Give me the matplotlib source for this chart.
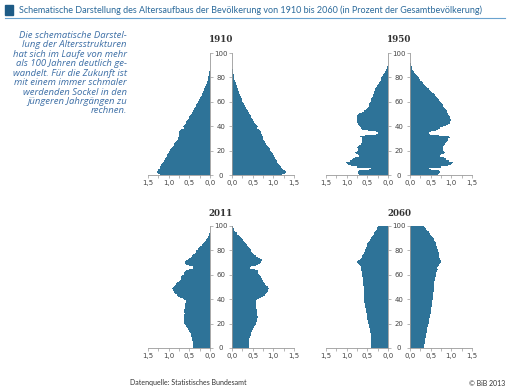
import matplotlib
matplotlib.use('Agg')
import matplotlib.pyplot as plt
from matplotlib.ticker import MultipleLocator, FuncFormatter

# age 0..100, share of total population in percent (left = male, right = female)
ages = list(range(101))

male_1910 = [1.22, 1.27, 1.28, 1.27, 1.25, 1.22, 1.21, 1.19, 1.18, 1.16,
             1.13, 1.12, 1.10, 1.08, 1.07, 1.05, 1.03, 1.02, 1.00, 0.98,
             0.96, 0.94, 0.92, 0.90, 0.88, 0.86, 0.84, 0.82, 0.80, 0.78,
             0.77, 0.76, 0.76, 0.75, 0.75, 0.74, 0.73, 0.70, 0.64, 0.66,
             0.63, 0.61, 0.59, 0.57, 0.56, 0.54, 0.52, 0.50, 0.48, 0.46,
             0.44, 0.43, 0.41, 0.39, 0.38, 0.36, 0.34, 0.33, 0.31, 0.29,
             0.28, 0.26, 0.25, 0.23, 0.22, 0.20, 0.19, 0.17, 0.16, 0.15,
             0.14, 0.12, 0.11, 0.10, 0.09, 0.08, 0.07, 0.06, 0.05, 0.05,
             0.04, 0.03, 0.03, 0.02, 0.02, 0.01, 0.01, 0.01, 0.0, 0.0,
             0.0, 0.0, 0.0, 0.0, 0.0, 0.0, 0.0, 0.0, 0.0, 0.0, 0.0]
female_1910 = [1.22, 1.28, 1.30, 1.28, 1.24, 1.20, 1.18, 1.16, 1.14, 1.12,
               1.10, 1.08, 1.07, 1.05, 1.04, 1.02, 1.00, 0.99, 0.97, 0.95,
               0.93, 0.91, 0.89, 0.87, 0.85, 0.83, 0.81, 0.79, 0.77, 0.76,
               0.75, 0.74, 0.73, 0.72, 0.71, 0.70, 0.68, 0.66, 0.60, 0.62,
               0.60, 0.58, 0.56, 0.54, 0.52, 0.51, 0.49, 0.47, 0.45, 0.43,
               0.41, 0.40, 0.38, 0.36, 0.34, 0.33, 0.31, 0.30, 0.28, 0.27,
               0.25, 0.24, 0.23, 0.22, 0.21, 0.19, 0.18, 0.17, 0.16, 0.15,
               0.14, 0.13, 0.12, 0.11, 0.10, 0.09, 0.08, 0.07, 0.06, 0.06,
               0.05, 0.04, 0.04, 0.03, 0.03, 0.02, 0.02, 0.01, 0.01, 0.01,
               0.01, 0.0, 0.0, 0.0, 0.0, 0.0, 0.0, 0.0, 0.0, 0.0, 0.0]

male_1950 = [0.70, 0.72, 0.72, 0.70, 0.45, 0.40, 0.75, 0.90, 0.97, 1.00,
             1.02, 0.93, 0.88, 0.85, 0.80, 0.70, 0.72, 0.78, 0.80, 0.76,
             0.72, 0.72, 0.74, 0.73, 0.70, 0.66, 0.64, 0.62, 0.63, 0.62,
             0.64, 0.68, 0.55, 0.28, 0.24, 0.30, 0.48, 0.62, 0.65, 0.68,
             0.70, 0.72, 0.73, 0.74, 0.75, 0.75, 0.75, 0.74, 0.74, 0.72,
             0.70, 0.64, 0.58, 0.54, 0.51, 0.49, 0.47, 0.46, 0.45, 0.43,
             0.42, 0.41, 0.40, 0.39, 0.37, 0.36, 0.35, 0.34, 0.33, 0.32,
             0.31, 0.29, 0.27, 0.26, 0.24, 0.22, 0.20, 0.18, 0.17, 0.16,
             0.15, 0.13, 0.11, 0.09, 0.07, 0.05, 0.04, 0.03, 0.02, 0.01,
             0.01, 0.0, 0.0, 0.0, 0.0, 0.0, 0.0, 0.0, 0.0, 0.0, 0.0]
female_1950 = [0.67, 0.71, 0.72, 0.70, 0.50, 0.45, 0.75, 0.92, 0.98, 1.02,
               1.03, 0.95, 0.88, 0.86, 0.82, 0.72, 0.76, 0.82, 0.84, 0.82,
               0.80, 0.79, 0.80, 0.80, 0.82, 0.85, 0.88, 0.90, 0.91, 0.93,
               0.96, 0.95, 0.70, 0.48, 0.45, 0.52, 0.63, 0.68, 0.72, 0.80,
               0.88, 0.93, 0.96, 0.97, 0.98, 0.98, 0.97, 0.96, 0.95, 0.93,
               0.92, 0.90, 0.89, 0.87, 0.85, 0.83, 0.81, 0.79, 0.77, 0.74,
               0.72, 0.70, 0.67, 0.65, 0.62, 0.60, 0.57, 0.54, 0.51, 0.48,
               0.45, 0.42, 0.39, 0.36, 0.33, 0.31, 0.28, 0.25, 0.23, 0.21,
               0.19, 0.16, 0.14, 0.12, 0.10, 0.08, 0.06, 0.05, 0.04, 0.03,
               0.02, 0.02, 0.01, 0.01, 0.0, 0.0, 0.0, 0.0, 0.0, 0.0, 0.0]

male_2011 = [0.42, 0.42, 0.42, 0.42, 0.42, 0.42, 0.43, 0.43, 0.44, 0.45,
             0.46, 0.47, 0.48, 0.50, 0.51, 0.53, 0.55, 0.57, 0.58, 0.60,
             0.62, 0.62, 0.63, 0.62, 0.63, 0.64, 0.63, 0.62, 0.61, 0.62,
             0.63, 0.62, 0.61, 0.60, 0.60, 0.61, 0.60, 0.58, 0.58, 0.62,
             0.66, 0.72, 0.77, 0.81, 0.84, 0.86, 0.88, 0.90, 0.91, 0.90,
             0.88, 0.85, 0.82, 0.79, 0.76, 0.73, 0.71, 0.70, 0.69, 0.67,
             0.64, 0.62, 0.60, 0.58, 0.52, 0.40, 0.42, 0.52, 0.57, 0.60,
             0.61, 0.58, 0.54, 0.50, 0.46, 0.43, 0.40, 0.37, 0.35, 0.33,
             0.30, 0.28, 0.26, 0.23, 0.20, 0.17, 0.15, 0.12, 0.10, 0.08,
             0.06, 0.04, 0.03, 0.02, 0.01, 0.01, 0.0, 0.0, 0.0, 0.0, 0.0]
female_2011 = [0.40, 0.40, 0.40, 0.40, 0.41, 0.41, 0.42, 0.42, 0.43, 0.44,
               0.45, 0.46, 0.47, 0.48, 0.49, 0.51, 0.53, 0.54, 0.56, 0.58,
               0.59, 0.60, 0.61, 0.60, 0.61, 0.62, 0.61, 0.60, 0.60, 0.61,
               0.61, 0.60, 0.59, 0.58, 0.58, 0.59, 0.58, 0.57, 0.58, 0.61,
               0.66, 0.71, 0.75, 0.79, 0.82, 0.84, 0.86, 0.88, 0.89, 0.88,
               0.86, 0.83, 0.80, 0.78, 0.76, 0.74, 0.72, 0.71, 0.70, 0.68,
               0.66, 0.64, 0.63, 0.62, 0.56, 0.44, 0.47, 0.58, 0.64, 0.68,
               0.71, 0.73, 0.72, 0.68, 0.62, 0.57, 0.54, 0.51, 0.49, 0.47,
               0.45, 0.43, 0.41, 0.39, 0.37, 0.35, 0.32, 0.30, 0.27, 0.25,
               0.22, 0.19, 0.16, 0.13, 0.11, 0.08, 0.06, 0.04, 0.03, 0.02, 0.01]

male_2060 = [0.40, 0.40, 0.40, 0.40, 0.40, 0.40, 0.41, 0.41, 0.41, 0.42,
             0.42, 0.42, 0.43, 0.43, 0.44, 0.44, 0.45, 0.46, 0.46, 0.47,
             0.48, 0.49, 0.49, 0.50, 0.50, 0.51, 0.51, 0.52, 0.52, 0.53,
             0.53, 0.54, 0.54, 0.55, 0.55, 0.56, 0.56, 0.57, 0.57, 0.57,
             0.58, 0.58, 0.58, 0.59, 0.59, 0.59, 0.59, 0.59, 0.59, 0.59,
             0.59, 0.60, 0.60, 0.60, 0.60, 0.60, 0.61, 0.61, 0.62, 0.62,
             0.63, 0.64, 0.64, 0.65, 0.66, 0.65, 0.66, 0.68, 0.70, 0.72,
             0.74, 0.72, 0.68, 0.65, 0.63, 0.62, 0.60, 0.59, 0.57, 0.56,
             0.55, 0.54, 0.53, 0.52, 0.51, 0.50, 0.48, 0.46, 0.44, 0.42,
             0.40, 0.38, 0.36, 0.34, 0.33, 0.31, 0.29, 0.27, 0.26, 0.24, 0.23]
female_2060 = [0.35, 0.35, 0.35, 0.36, 0.36, 0.36, 0.37, 0.37, 0.38, 0.38,
               0.39, 0.39, 0.40, 0.40, 0.41, 0.41, 0.42, 0.43, 0.43, 0.44,
               0.45, 0.45, 0.46, 0.47, 0.47, 0.48, 0.49, 0.49, 0.50, 0.50,
               0.51, 0.51, 0.52, 0.52, 0.53, 0.53, 0.53, 0.54, 0.54, 0.55,
               0.55, 0.55, 0.56, 0.56, 0.56, 0.56, 0.57, 0.57, 0.57, 0.57,
               0.57, 0.58, 0.58, 0.59, 0.59, 0.60, 0.60, 0.61, 0.62, 0.62,
               0.63, 0.64, 0.65, 0.66, 0.67, 0.66, 0.67, 0.69, 0.71, 0.73,
               0.75, 0.74, 0.73, 0.72, 0.71, 0.71, 0.70, 0.69, 0.69, 0.68,
               0.67, 0.66, 0.66, 0.65, 0.64, 0.63, 0.62, 0.60, 0.58, 0.57,
               0.55, 0.53, 0.51, 0.49, 0.47, 0.45, 0.42, 0.39, 0.36, 0.33, 0.30]

years = ['1910', '1950', '2011', '2060']
males = [male_1910, male_1950, male_2011, male_2060]
females = [female_1910, female_1950, female_2011, female_2060]

title = ('Schematische Darstellung des Altersaufbaus der Bevölkerung '
         'von 1910 bis 2060 (in Prozent der Gesamtbevölkerung)')
note = ('Die schematische Darstel-\nlung der Altersstrukturen\n'
        'hat sich im Laufe von mehr\nals 100 Jahren deutlich ge-\n'
        'wandelt. Für die Zukunft ist\nmit einem immer schmaler\n'
        'werdenden Sockel in den\njüngeren Jahrgängen zu\nrechnen.')

BAR = '#2e7398'
AXC = '#9a9a9a'
TXT = '#444444'

W, H = 510, 391
fig = plt.figure(figsize=(W / 100, H / 100), dpi=100)

# pixel boxes of the panels: (left x of male panel, top y)
boxes = [(148, 53), (326, 53), (148, 226), (326, 226)]
pw, ph, gap = 62, 122, 22

comma = FuncFormatter(lambda v, p: f'{v:.1f}'.replace('.', ','))

for (x0, y0), year, m, f in zip(boxes, years, males, females):
    bottom = 1 - (y0 + ph) / H
    ax_l = fig.add_axes([x0 / W, bottom, pw / W, ph / H])
    ax_r = fig.add_axes([(x0 + pw + gap) / W, bottom, pw / W, ph / H])

    ax_l.barh(ages, m, height=1.0, align='edge', color=BAR, linewidth=0)
    ax_r.barh(ages, f, height=1.0, align='edge', color=BAR, linewidth=0)

    ax_l.set_xlim(1.5, 0)
    ax_r.set_xlim(0, 1.5)
    for ax in (ax_l, ax_r):
        ax.set_ylim(0, 100)
        ax.xaxis.set_major_locator(MultipleLocator(0.5))
        ax.xaxis.set_minor_locator(MultipleLocator(0.25))
        ax.xaxis.set_major_formatter(comma)
        ax.yaxis.set_major_locator(MultipleLocator(20))
        ax.tick_params(axis='x', which='both', length=2, width=0.5,
                       color=AXC, labelsize=5, labelcolor=TXT, pad=1.5)
        ax.spines['top'].set_visible(False)
        ax.spines['bottom'].set_color(AXC)
        ax.spines['bottom'].set_linewidth(0.6)
        ax.set_facecolor('none')

    ax_l.spines['left'].set_visible(False)
    ax_l.spines['right'].set_color(AXC)
    ax_l.spines['right'].set_linewidth(0.6)
    ax_l.yaxis.tick_right()
    ax_l.tick_params(axis='y', length=2, width=0.5, color=AXC,
                     labelsize=5, labelcolor=TXT, pad=6.0)
    for lab in ax_l.get_yticklabels():
        lab.set_horizontalalignment('center')

    ax_r.spines['right'].set_visible(False)
    ax_r.spines['left'].set_color(AXC)
    ax_r.spines['left'].set_linewidth(0.6)
    ax_r.tick_params(axis='y', length=2, width=0.5, color=AXC, labelleft=False)

    fig.text((x0 + pw + gap / 2) / W, 1 - (y0 - 13) / H, year,
             ha='center', va='center', fontsize=6.3, fontweight='bold',
             family='DejaVu Serif', color='#333333')

# header
fig.patches.append(plt.Rectangle((5 / W, 1 - 15 / H), 8 / W, 10 / H,
                                 transform=fig.transFigure, color='#1d5b86'))
fig.text(19 / W, 1 - 10 / H, title, ha='left', va='center', fontsize=6.5,
         family='Lato', color='#2b6a9b')
fig.add_artist(plt.Line2D([5 / W, 505 / W], [1 - 17.5 / H, 1 - 17.5 / H],
                          color='#6aa3cf', linewidth=0.8))

fig.text(127 / W, 1 - 31 / H, note, ha='right', va='top', fontsize=6.8,
         style='italic', family='Open Sans', color='#3d6fa6', linespacing=1.06)

fig.text(130 / W, 1 - 383 / H, 'Datenquelle: Statistisches Bundesamt',
         ha='left', va='center', fontsize=5.0, family='Lato', color='#333333')
fig.text(505 / W, 1 - 383 / H, '© BiB 2013', ha='right', va='center',
         fontsize=5.0, family='Lato', color='#333333')

fig.savefig('out.png', dpi=100)
